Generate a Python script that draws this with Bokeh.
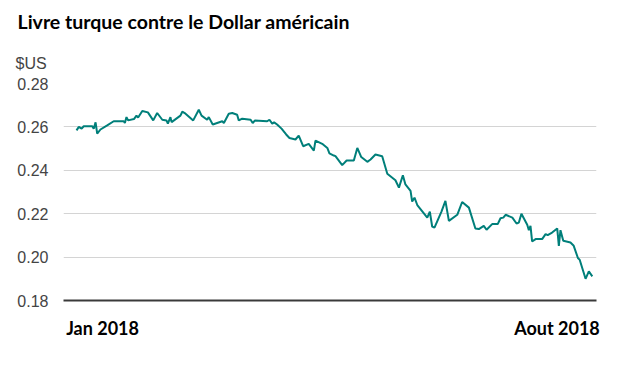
from bokeh.plotting import figure
from bokeh.models import Range1d, FixedTicker, Title, PrintfTickFormatter
from bokeh.embed import file_html
from bokeh.resources import INLINE

# Days since 2018-01-01 and TRY/USD exchange rate ($US per lira)
days = [1.0, 2.0, 3.2, 4.1, 7.8, 8.4, 9.2, 9.9, 11.3, 14.2, 17.0, 21.3, 21.8, 22.5, 23.2,
        25.7, 26.8, 27.5, 29.3, 31.7, 34.0, 35.7, 37.9, 39.7, 40.3, 41.4, 41.9, 45.7, 46.5,
        47.9, 51.2, 53.6, 54.8, 57.2, 57.9, 59.6, 61.5, 63.7, 64.4, 66.5, 68.0, 70.1, 70.8,
        72.3, 75.9, 76.8, 77.7, 83.0, 84.0, 85.2, 86.0, 87.3, 89.2, 91.2, 92.6, 95.2, 96.6,
        98.5, 100.9, 103.1, 103.8, 106.7, 108.9, 109.8, 111.7, 112.4, 115.3, 117.2, 120.3,
        121.8, 123.5, 126.1, 127.5, 129.6, 132.5, 134.7, 138.2, 139.7, 141.4, 142.5, 144.7,
        145.4, 146.4, 147.6, 151.9, 153.0, 154.0, 155.0, 158.0, 159.7, 161.2, 164.8, 166.9,
        169.8, 172.6, 174.1, 176.2, 177.4, 179.8, 182.2, 183.4, 184.6, 185.6, 188.5, 190.3,
        191.3, 192.4, 194.9, 195.6, 196.3, 197.0, 198.5, 201.3, 202.8, 203.7, 205.6, 207.8,
        208.5, 209.2, 210.4, 213.5, 214.9, 216.7, 217.5, 220.0, 221.4, 222.9]
rate = [0.2584, 0.2600, 0.2592, 0.2603, 0.2603, 0.2592, 0.2621, 0.2569, 0.2588, 0.2607,
        0.2626, 0.2626, 0.2618, 0.2645, 0.2630, 0.2636, 0.2652, 0.2643, 0.2673, 0.2667,
        0.2630, 0.2664, 0.2633, 0.2630, 0.2615, 0.2645, 0.2622, 0.2652, 0.2670, 0.2661,
        0.2630, 0.2679, 0.2652, 0.2633, 0.2645, 0.2611, 0.2618, 0.2626, 0.2618, 0.2661,
        0.2664, 0.2656, 0.2630, 0.2638, 0.2633, 0.2618, 0.2629, 0.2626, 0.2633, 0.2615,
        0.2621, 0.2611, 0.2592, 0.2565, 0.2549, 0.2542, 0.2560, 0.2511, 0.2522, 0.2491,
        0.2537, 0.2522, 0.2503, 0.2478, 0.2468, 0.2465, 0.2424, 0.2445, 0.2445, 0.2503,
        0.2461, 0.2439, 0.2450, 0.2473, 0.2465, 0.2384, 0.2354, 0.2320, 0.2377, 0.2335,
        0.2305, 0.2256, 0.2274, 0.2240, 0.2182, 0.2210, 0.2141, 0.2136, 0.2210, 0.2259,
        0.2167, 0.2195, 0.2254, 0.2228, 0.2132, 0.2129, 0.2144, 0.2126, 0.2152, 0.2152,
        0.2179, 0.2182, 0.2195, 0.2182, 0.2155, 0.2159, 0.2200, 0.2149, 0.2124, 0.2144,
        0.2072, 0.2083, 0.2083, 0.2106, 0.2101, 0.2113, 0.2132, 0.2052, 0.2124, 0.2075,
        0.2067, 0.2052, 0.1996, 0.1987, 0.1900, 0.1934, 0.1911]

y_ticks = [0.18, 0.20, 0.22, 0.24, 0.26, 0.28]
x_tick_pos = [12.2, 207.7]
x_tick_labels = ["Jan 2018", "Aout 2018"]

p = figure(width=624, height=370, output_backend="svg", toolbar_location=None,
           x_range=Range1d(-4.6, 224.7), y_range=Range1d(0.18, 0.28),
           min_border_left=63, min_border_right=28, min_border_bottom=70,
           min_border_top=82)
p.outline_line_color = None
p.background_fill_color = "white"

p.title.text = "Livre turque contre le Dollar américain"
p.title.text_font = "Lato"
p.title.text_font_style = "bold"
p.title.text_font_size = "19.5px"
p.title.text_color = "#000000"
p.title.align = "left"
p.title.offset = -46
p.title.standoff = 15

sub = Title(text="$US", align="left", offset=-48, text_font="Liberation Sans",
            text_font_style="normal", text_font_size="16px", text_color="#444444",
            standoff=24)
p.add_layout(sub, "above")

p.line(days, rate, line_color="#007f7a", line_width=2)

p.xgrid.grid_line_color = None
p.ygrid.grid_line_color = "#d4d4d4"
p.ygrid.grid_line_width = 1
p.yaxis.ticker = FixedTicker(ticks=y_ticks)
p.yaxis.formatter = PrintfTickFormatter(format="%.2f")
p.yaxis.axis_line_color = None
p.yaxis.major_tick_line_color = None
p.yaxis.minor_tick_line_color = None
p.yaxis.major_tick_out = 0
p.yaxis.major_label_standoff = 15
p.yaxis.major_label_text_font = "Liberation Sans"
p.yaxis.major_label_text_font_size = "16px"
p.yaxis.major_label_text_color = "#444444"

p.xaxis.ticker = FixedTicker(ticks=x_tick_pos)
p.xaxis.major_label_overrides = {t: l for t, l in zip(x_tick_pos, x_tick_labels)}
p.xaxis.axis_line_color = "#3a3a3a"
p.xaxis.axis_line_width = 2
p.xaxis.major_tick_line_color = None
p.xaxis.minor_tick_line_color = None
p.xaxis.major_tick_out = 0
p.xaxis.major_label_standoff = 16
p.xaxis.major_label_text_font = "Lato"
p.xaxis.major_label_text_font_style = "bold"
p.xaxis.major_label_text_font_size = "18px"
p.xaxis.major_label_text_color = "#000000"

open("out.html", "w").write(file_html(p, INLINE))
